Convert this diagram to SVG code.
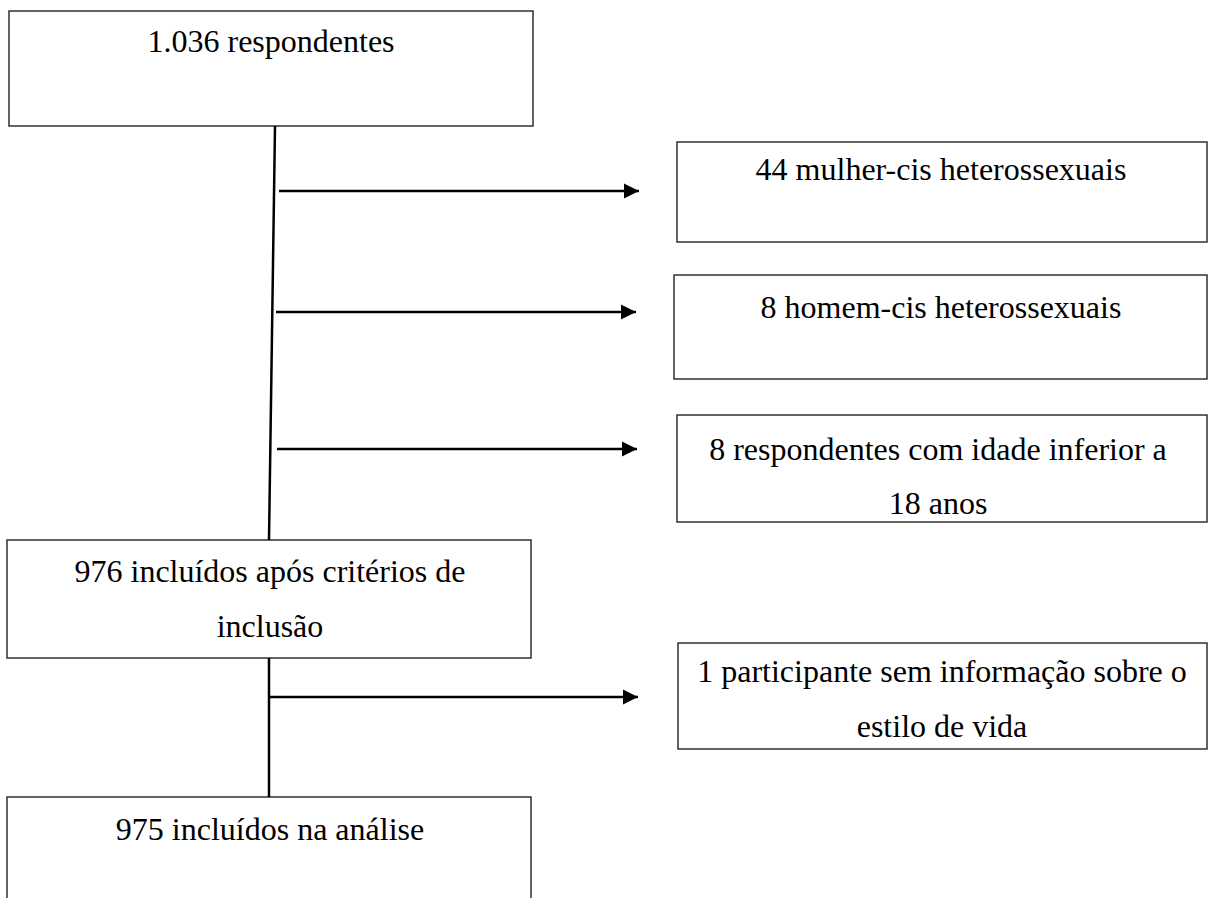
<svg xmlns="http://www.w3.org/2000/svg" width="1209" height="898" viewBox="0 0 1209 898">
<style>
.box{fill:#fff;stroke:#222;stroke-width:1.4}
.t{font-family:"Liberation Serif","Times New Roman",serif;font-size:32px;fill:#000;text-anchor:middle}
.c{stroke:#000;stroke-width:2.5;fill:none}
</style>
<defs>
<marker id="ah" markerUnits="userSpaceOnUse" markerWidth="16" markerHeight="16" viewBox="0 0 16 16" refX="15" refY="8" orient="auto">
<path d="M0,0.5 L15,8 L0,15.5 Z" fill="#000"/>
</marker>
</defs>
<g id="n1"><rect class="box" x="9" y="11" width="524" height="115"/><text class="t" x="271" y="52">1.036 respondentes</text></g>
<g id="n2"><rect class="box" x="677" y="142" width="530" height="100"/><text class="t" x="941" y="180">44 mulher-cis heterossexuais</text></g>
<g id="n3"><rect class="box" x="674" y="275" width="533" height="104"/><text class="t" x="941" y="318">8 homem-cis heterossexuais</text></g>
<g id="n4"><rect class="box" x="677" y="415" width="530" height="107"/><text class="t" x="938" y="460">8 respondentes com idade inferior a</text><text class="t" x="938" y="514">18 anos</text></g>
<g id="n5"><rect class="box" x="7" y="540" width="524" height="118"/><text class="t" x="270" y="582">976 incluídos após critérios de</text><text class="t" x="270" y="637">inclusão</text></g>
<g id="n6"><rect class="box" x="678" y="643" width="529" height="106"/><text class="t" x="942" y="682">1 participante sem informação sobre o</text><text class="t" x="942" y="737">estilo de vida</text></g>
<g id="n7"><rect class="box" x="7" y="797" width="524" height="110"/><text class="t" x="270" y="840">975 incluídos na análise</text></g>
<g id="connectors">
<line class="c" x1="275" y1="126" x2="269" y2="540"/>
<line class="c" x1="279" y1="191" x2="639" y2="191" marker-end="url(#ah)"/>
<line class="c" x1="276" y1="312" x2="636" y2="312" marker-end="url(#ah)"/>
<line class="c" x1="277" y1="449" x2="637" y2="449" marker-end="url(#ah)"/>
<line class="c" x1="269" y1="658" x2="269" y2="797"/>
<line class="c" x1="269" y1="697" x2="638" y2="697" marker-end="url(#ah)"/>
</g>
</svg>
